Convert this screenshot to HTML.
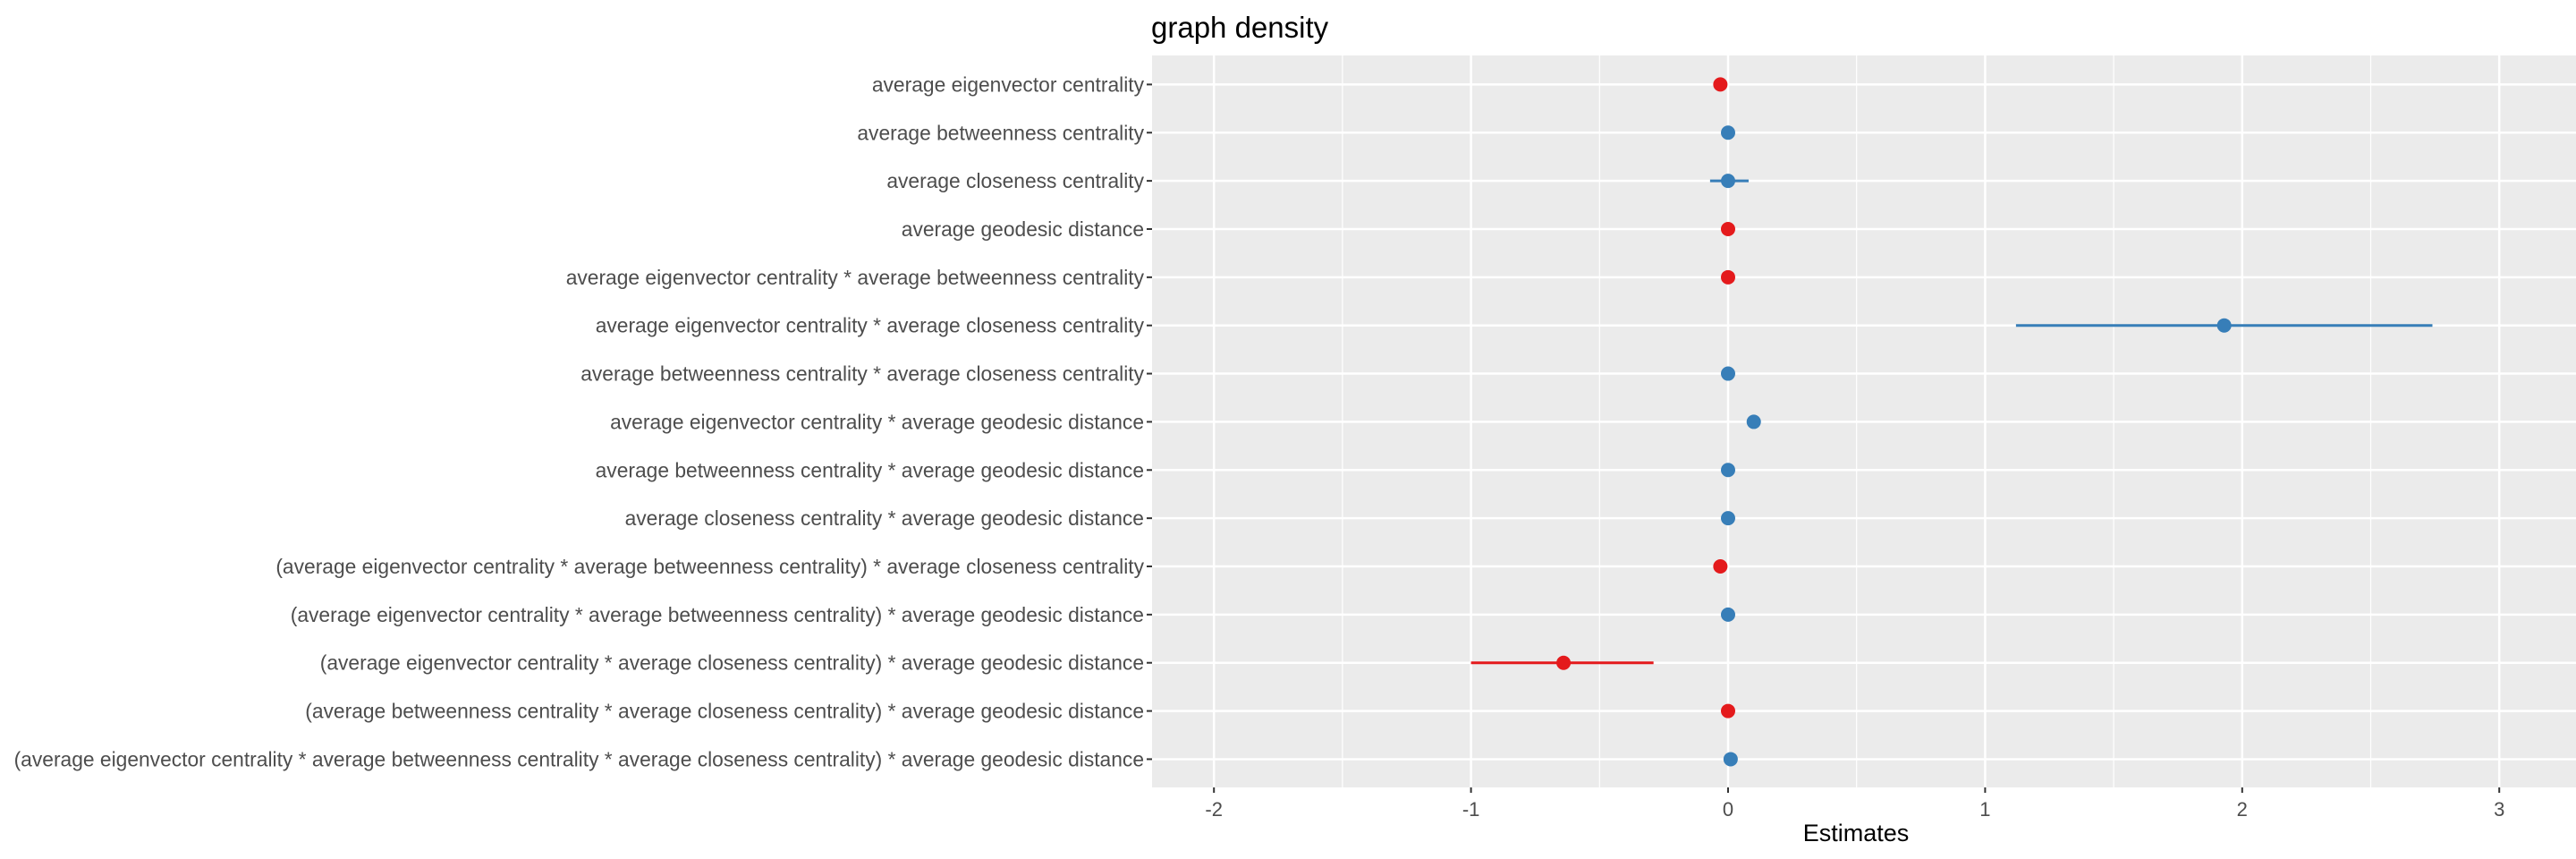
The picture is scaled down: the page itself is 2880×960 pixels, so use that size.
<!DOCTYPE html>
<html><head><meta charset="utf-8"><style>
html,body{margin:0;padding:0;background:#fff;}
svg{display:block;font-family:"Liberation Sans",Arial,sans-serif;}
</style></head><body>
<svg id="chart" width="2880" height="960" viewBox="0 0 2880 960">
<text x="1287" y="42" font-size="33" fill="#000">graph density</text>
<rect x="1288" y="62" width="1592" height="818" fill="#EBEBEB"/>
<g id="grid"></g><g id="marks"></g><g id="axes"></g>
<text x="2075" y="940" font-size="27" fill="#000" text-anchor="middle">Estimates</text>
</svg>
<script>
const categories = [
"average eigenvector centrality",
"average betweenness centrality",
"average closeness centrality",
"average geodesic distance",
"average eigenvector centrality * average betweenness centrality",
"average eigenvector centrality * average closeness centrality",
"average betweenness centrality * average closeness centrality",
"average eigenvector centrality * average geodesic distance",
"average betweenness centrality * average geodesic distance",
"average closeness centrality * average geodesic distance",
"(average eigenvector centrality * average betweenness centrality) * average closeness centrality",
"(average eigenvector centrality * average betweenness centrality) * average geodesic distance",
"(average eigenvector centrality * average closeness centrality) * average geodesic distance",
"(average betweenness centrality * average closeness centrality) * average geodesic distance",
"(average eigenvector centrality * average betweenness centrality * average closeness centrality) * average geodesic distance"
];
const estimates = [-0.03, 0, 0, 0, 0, 1.93, 0, 0.1, 0, 0, -0.03, 0, -0.64, 0, 0.01];
const ciLow  = [-0.03, 0, -0.07, 0, 0, 1.12, 0, 0.1, 0, 0, -0.03, 0, -1.0, 0, 0.01];
const ciHigh = [-0.03, 0, 0.08, 0, 0, 2.74, 0, 0.1, 0, 0, -0.03, 0, -0.29, 0, 0.01];
const signs = ["neg","pos","pos","neg","neg","pos","pos","pos","pos","pos","neg","pos","neg","neg","pos"];
const xTicks = [-2,-1,0,1,2,3];
const xTickLabels = ["-2","-1","0","1","2","3"];

const NS="http://www.w3.org/2000/svg";
const x = v => 1932 + v*287.4;
const y = i => 94.4 + i*53.86;
const col = s => s==="neg" ? "#E41A1C" : "#377EB8";
function mk(tag, attrs, parent){const e=document.createElementNS(NS,tag);for(const k in attrs)e.setAttribute(k,attrs[k]);document.getElementById(parent).appendChild(e);return e;}

for(let i=0;i<xTicks.length-1;i++){
  const m=(xTicks[i]+xTicks[i+1])/2;
  const g=mk("line",{x1:x(m),x2:x(m),y1:62,y2:880,stroke:"#fff","stroke-width":1.2},"grid");
  
  
}
xTicks.forEach((t,i)=>{
  const g=mk("line",{x1:x(t),x2:x(t),y1:62,y2:880,stroke:"#fff","stroke-width":2.5},"grid");
  
  
  const tk=mk("line",{x1:x(t),x2:x(t),y1:880,y2:886,stroke:"#333","stroke-width":2},"axes");
  
  
  const tl=mk("text",{x:x(t),y:912,"font-size":22,fill:"#4D4D4D","text-anchor":"middle"},"axes");
  tl.textContent=xTickLabels[i];
  
  
});
categories.forEach((c,i)=>{
  const g=mk("line",{x1:1288,x2:2880,y1:y(i),y2:y(i),stroke:"#fff","stroke-width":2.5},"grid");
  
  
  const tk=mk("line",{x1:1282,x2:1288,y1:y(i),y2:y(i),stroke:"#333","stroke-width":2},"axes");
  
  
  const tl=mk("text",{x:1279,y:y(i)+8,"font-size":22.8,fill:"#4D4D4D","text-anchor":"end"},"axes");
  tl.textContent=c;
  
  
  if(ciHigh[i]>ciLow[i]){
    const l=mk("line",{x1:x(ciLow[i]),x2:x(ciHigh[i]),y1:y(i),y2:y(i),stroke:col(signs[i]),"stroke-width":3},"marks");
    
    
  }
  const p=mk("circle",{cx:x(estimates[i]),cy:y(i),r:8,fill:col(signs[i])},"marks");
  
  
});
</script>
</body></html>
